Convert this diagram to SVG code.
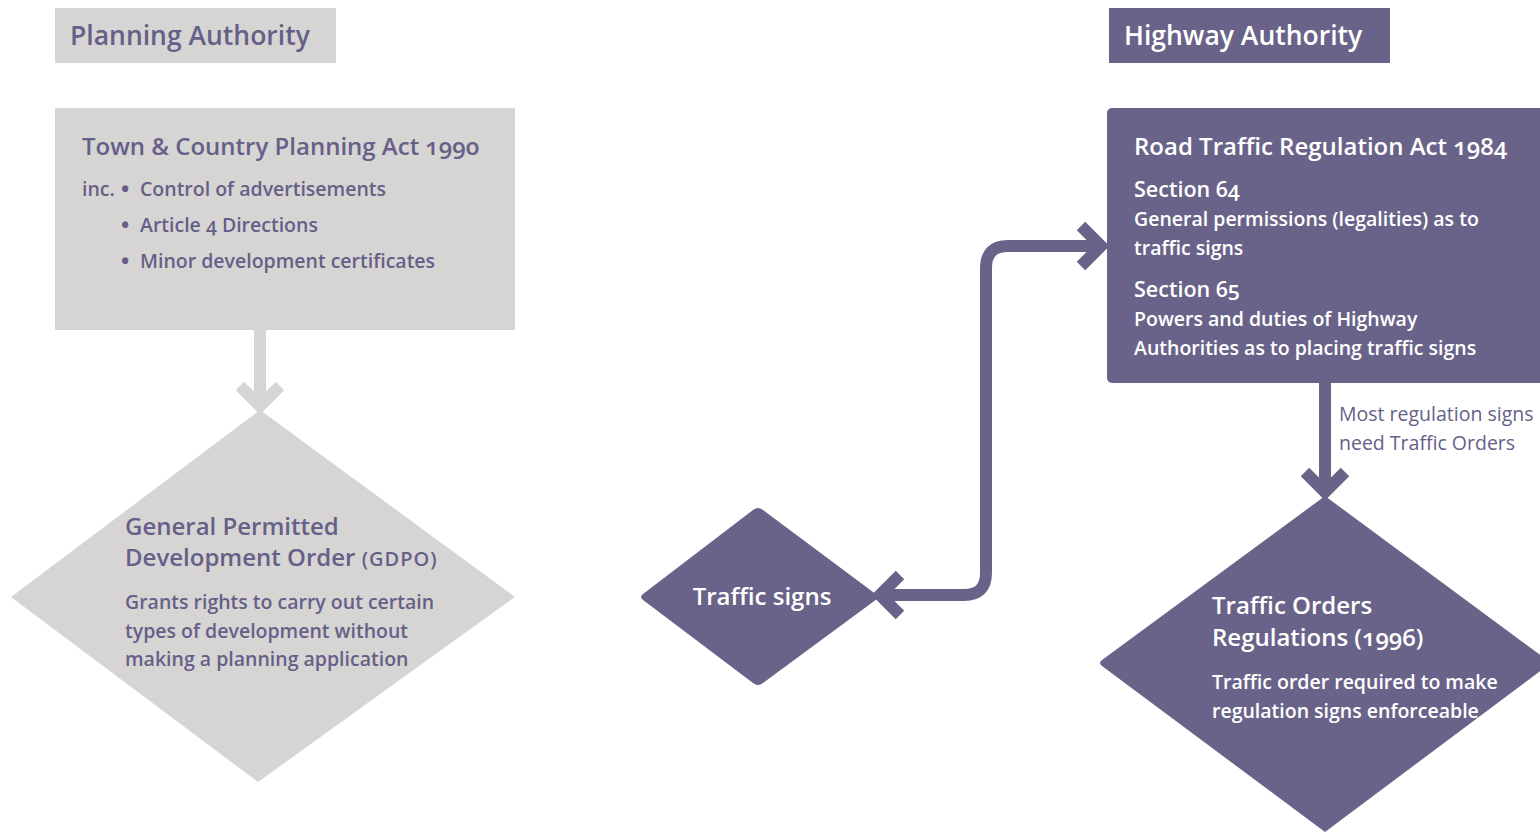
<svg xmlns="http://www.w3.org/2000/svg" width="1540" height="835" viewBox="0 0 1540 835">
  <style>
    text { font-family: "Open Sans", "Liberation Sans", sans-serif; font-variant-numeric: oldstyle-nums; }
    .grey { fill: #d6d5d4; }
    .purple { fill: #6a6389; }
    .ink { fill: #665f88; }
    .white { fill: #ffffff; }
    .head { font-size: 26.5px; font-weight: 600; }
    .title { font-size: 24px; font-weight: 600; }
    .sub { font-size: 21.5px; font-weight: 600; }
    .body { font-size: 19.5px; font-weight: 600; }
    .note { font-size: 19.5px; font-weight: 400; }
    .dot { font-size: 22px; font-weight: 700; }
    .wire { fill: none; stroke-width: 12; stroke-linejoin: miter; }
  </style>

  <!-- connectors -->
  <g id="connectors">
    <g class="wire" stroke="#d6d5d4">
      <line x1="260" y1="330" x2="260" y2="404"/>
      <polyline points="240,386 260,406 280,386"/>
    </g>
    <g class="wire" stroke="#6a6389">
      <path d="M1100,246 H1008 Q986,246 986,268 V573 Q986,595 964,595 H884"/>
      <polyline points="1081,226 1101,246 1081,266"/>
      <polyline points="900,575 880,595 900,615"/>
      <line x1="1325" y1="382" x2="1325" y2="490"/>
      <polyline points="1305,472 1325,492 1345,472"/>
    </g>
    <text class="note ink" x="1339" y="421">Most regulation signs</text>
    <text class="note ink" x="1339" y="450">need Traffic Orders</text>
  </g>

  <!-- planning authority column -->
  <g id="planning-authority">
    <rect class="grey" x="55" y="8" width="281" height="55"/>
    <text class="head ink" x="70" y="45">Planning Authority</text>
  </g>

  <g id="tcpa-1990">
    <rect class="grey" x="55" y="108" width="460" height="222"/>
    <text class="title ink" x="82" y="155">Town &amp; Country Planning Act 1990</text>
    <text class="body ink" x="82" y="196">inc.</text>
    <text class="dot ink" x="121" y="197">•</text>
    <text class="body ink" x="140" y="196">Control of advertisements</text>
    <text class="dot ink" x="121" y="233">•</text>
    <text class="body ink" x="140" y="232">Article 4 Directions</text>
    <text class="dot ink" x="121" y="269">•</text>
    <text class="body ink" x="140" y="268">Minor development certificates</text>
  </g>

  <g id="gdpo">
    <polygon class="grey" points="260,410 515,597 258,782 11,597"/>
    <text class="title ink" x="125" y="535">General Permitted</text>
    <text class="title ink" x="125" y="566">Development Order <tspan font-size="20" letter-spacing="1">(GDPO)</tspan></text>
    <text class="body ink" x="125" y="609">Grants rights to carry out certain</text>
    <text class="body ink" x="125" y="638">types of development without</text>
    <text class="body ink" x="125" y="666">making a planning application</text>
  </g>

  <!-- traffic signs -->
  <g id="traffic-signs">
    <path class="purple" d="M753,510 Q758,506 763,510 L877,595 Q880,597 877,599 L763,683 Q758,687 753,683 L643,600 Q639,597 643,594 Z"/>
    <text class="title white" x="762" y="605" text-anchor="middle">Traffic signs</text>
  </g>

  <!-- highway authority column -->
  <g id="highway-authority">
    <rect class="purple" x="1109" y="8" width="281" height="55"/>
    <text class="head white" x="1124" y="45">Highway Authority</text>
  </g>

  <g id="rtra-1984">
    <rect class="purple" x="1107" y="108" width="445" height="275" rx="5"/>
    <text class="title white" x="1134" y="155">Road Traffic Regulation Act 1984</text>
    <text class="sub white" x="1134" y="197">Section 64</text>
    <text class="body white" x="1134" y="226">General permissions (legalities) as to</text>
    <text class="body white" x="1134" y="255">traffic signs</text>
    <text class="sub white" x="1134" y="297">Section 65</text>
    <text class="body white" x="1134" y="326">Powers and duties of Highway</text>
    <text class="body white" x="1134" y="355">Authorities as to placing traffic signs</text>
  </g>

  <g id="traffic-orders">
    <path class="purple" d="M1325,496 L1551,663 L1325,832 L1102,666 Q1098,663 1102,660 Z"/>
    <text class="title white" x="1212" y="614">Traffic Orders</text>
    <text class="title white" x="1212" y="646">Regulations (1996)</text>
    <text class="body white" x="1212" y="689">Traffic order required to make</text>
    <text class="body white" x="1212" y="718">regulation signs enforceable</text>
  </g>
</svg>
